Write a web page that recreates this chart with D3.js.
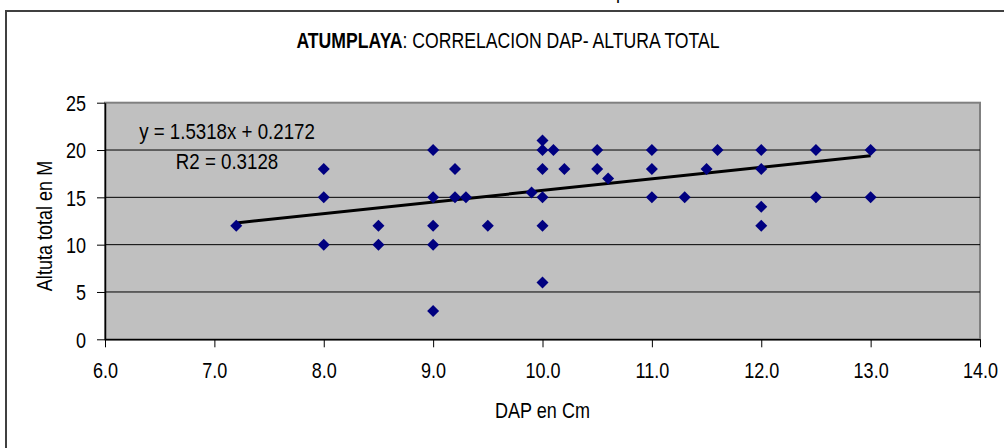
<!DOCTYPE html>
<html>
<head>
<meta charset="utf-8">
<script src="https://cdn.jsdelivr.net/npm/d3@7"></script>
<style>
  body { margin: 0; background: #fff; }
  text { font-family: "Liberation Sans", Arial, sans-serif; fill: #000; }
</style>
</head>
<body>
<div id="chart"></div>
<script>
// data
let dap = [7.2, 8.0, 8.0, 8.0, 8.5, 8.5, 9.0, 9.0, 9.0, 9.0, 9.0, 9.2, 9.2, 9.3, 9.5, 9.9,
           10.0, 10.0, 10.0, 10.0, 10.0, 10.0, 10.1, 10.2, 10.5, 10.5, 10.6, 11.0, 11.0, 11.0,
           11.3, 11.5, 11.6, 12.0, 12.0, 12.0, 12.0, 12.5, 12.5, 13.0, 13.0];
let altura = [12, 18, 15, 10, 12, 10, 20, 15, 12, 10, 3, 18, 15, 15, 12, 15.5,
              21, 20, 18, 15, 12, 6, 20, 18, 20, 18, 17, 20, 18, 15,
              15, 18, 20, 20, 18, 14, 12, 20, 15, 20, 15];
// trend line end points as drawn
let trendDap = [7.2, 13.0];
let trendAlt = [12.3, 19.4];
let xTicks = [6, 7, 8, 9, 10, 11, 12, 13, 14];
let yTicks = [0, 5, 10, 15, 20, 25];

const width = 1004, height = 448;
const plot = {left: 105, right: 980, top: 102.7, bottom: 339.3};
const SX = 0.82;   // narrow look of the text
const FS = 22;

let svg = d3.select("#chart").append("svg")
    .attr("width", width)
    .attr("height", height);

// chart area border (runs off right/bottom)
svg.append("rect")
    .attr("x", 6).attr("y", 11)
    .attr("width", 1100).attr("height", 600)
    .attr("fill", "#fff")
    .attr("stroke", "#404040")
    .attr("stroke-width", 2);

// bit of cut off text above
svg.append("text")
    .attr("transform", `translate(616, -2) scale(${SX},1)`)
    .style("font-size", FS + "px")
    .text("p");

let x = d3.scaleLinear().domain([6, 14]).range([plot.left, plot.right]);
let y = d3.scaleLinear().domain([0, 25]).range([plot.bottom, plot.top]);

// plot background
svg.append("rect")
    .attr("x", plot.left).attr("y", plot.top)
    .attr("width", plot.right - plot.left)
    .attr("height", plot.bottom - plot.top)
    .attr("fill", "#c0c0c0")
    .attr("stroke", "#808080")
    .attr("stroke-width", 2);

// gridlines
svg.append("g")
    .selectAll("line")
    .data(yTicks.filter(d => d > 0 && d < 25))
    .enter().append("line")
    .attr("x1", plot.left).attr("x2", plot.right)
    .attr("y1", d => y(d)).attr("y2", d => y(d))
    .attr("stroke", "#000")
    .attr("stroke-width", 1);

// x axis
let xAxis = svg.append("g")
    .attr("transform", `translate(0, ${plot.bottom})`)
    .call(d3.axisBottom(x).tickValues(xTicks).tickSize(8).tickSizeOuter(0)
        .tickFormat(d3.format(".1f")));
xAxis.select(".domain").attr("stroke", "#000").attr("stroke-width", 1.5);
xAxis.selectAll(".tick line").attr("stroke", "#000");
xAxis.selectAll(".tick text")
    .attr("font-family", null)
    .style("font-size", FS + "px")
    .attr("dy", null)
    .attr("y", 378.5 - plot.bottom)
    .attr("transform", `scale(${SX},1)`);

// y axis
let yAxis = svg.append("g")
    .attr("transform", `translate(${plot.left}, 0)`)
    .call(d3.axisLeft(y).tickValues(yTicks).tickSize(8).tickSizeOuter(0));
yAxis.select(".domain").attr("stroke", "#000").attr("stroke-width", 1.5);
yAxis.selectAll(".tick line").attr("stroke", "#000");
yAxis.selectAll(".tick text")
    .attr("font-family", null)
    .style("font-size", FS + "px")
    .attr("dy", "0.36em")
    .attr("x", -19 / SX)
    .attr("transform", `scale(${SX},1)`);

// trend line
svg.append("path")
    .datum(trendDap.map((d, i) => [d, trendAlt[i]]))
    .attr("d", d3.line().x(d => x(d[0])).y(d => y(d[1])))
    .attr("fill", "none")
    .attr("stroke", "#000")
    .attr("stroke-width", 3);

// points (diamonds)
let diamond = d3.symbol().type(d3.symbolSquare).size(72);
svg.append("g")
    .selectAll("path")
    .data(dap.map((d, i) => ({dap: d, alt: altura[i]})))
    .enter().append("path")
    .attr("d", diamond)
    .attr("transform", d => `translate(${x(d.dap)}, ${y(d.alt)}) rotate(45)`)
    .attr("fill", "#000080");

// equation labels
svg.append("text")
    .attr("transform", `translate(227, 138.5) scale(0.85,1)`)
    .style("text-anchor", "middle")
    .style("font-size", FS + "px")
    .text("y = 1.5318x + 0.2172");
svg.append("text")
    .attr("transform", `translate(227, 168.5) scale(0.85,1)`)
    .style("text-anchor", "middle")
    .style("font-size", FS + "px")
    .text("R2 = 0.3128");

// title
let title = svg.append("text")
    .attr("transform", `translate(508, 47.5) scale(${SX},1)`)
    .style("text-anchor", "middle")
    .style("font-size", "21.5px");
title.append("tspan").style("font-weight", "bold").text("ATUMPLAYA");
title.append("tspan").text(": CORRELACION DAP- ALTURA TOTAL");

// axis titles
svg.append("text")
    .attr("transform", `translate(${(plot.left + plot.right) / 2}, 418) scale(${SX},1)`)
    .style("text-anchor", "middle")
    .style("font-size", FS + "px")
    .text("DAP en Cm");

svg.append("text")
    .attr("transform", `translate(52, 226) rotate(-90) scale(${SX},1)`)
    .style("text-anchor", "middle")
    .style("font-size", FS + "px")
    .text("Altuta total en M");
</script>
</body>
</html>
